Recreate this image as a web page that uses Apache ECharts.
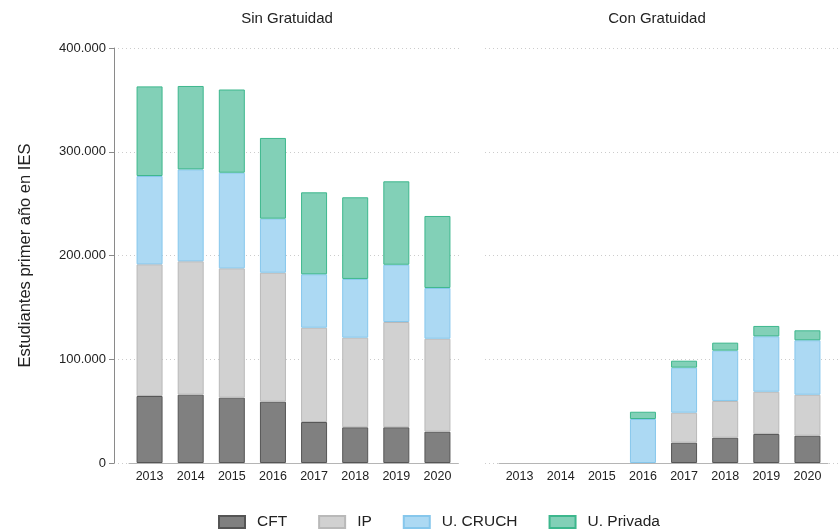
<!DOCTYPE html>
<html>
<head>
<meta charset="utf-8">
<script src="https://cdn.jsdelivr.net/npm/echarts@6/dist/echarts.min.js"></script>
<style>
  html, body { margin: 0; padding: 0; background: #fff; }
  #main { width: 839px; height: 531px; }
</style>
</head>
<body>
<div id="main"></div>
<script>
// años (eje x de ambos paneles)
var years = ['2013', '2014', '2015', '2016', '2017', '2018', '2019', '2020'];
var yTicks = [0, 100000, 200000, 300000, 400000];

// Sin Gratuidad
var sinCFT     = [64600, 65900, 63000, 59100, 39500, 34400, 34400, 30200];
var sinIP      = [126900, 128500, 124600, 124300, 90900, 86400, 101500, 89600];
var sinCRUCH   = [85100, 88600, 92200, 52100, 51500, 56600, 55200, 48900];
var sinPrivada = [86400, 80400, 80200, 77800, 79000, 78700, 80400, 69400];

// Con Gratuidad
var conCFT     = [0, 0, 0, 0, 19600, 24400, 28000, 26300];
var conIP      = [0, 0, 0, 0, 28900, 35400, 40700, 39500];
var conCRUCH   = [0, 0, 0, 42400, 43400, 48500, 53400, 52500];
var conPrivada = [0, 0, 0, 7000, 6700, 7700, 10000, 9600];

var names = ['CFT', 'IP', 'U. CRUCH', 'U. Privada'];
var fills = ['#808080', '#d1d1d1', '#acd9f3', '#82d0b7'];
var borders = ['#555555', '#b9b9b9', '#86c7ec', '#3db78d'];

var myChart = echarts.init(document.getElementById('main'));
var FONT = '"Liberation Sans", Arial, Helvetica, sans-serif';

function fmt(v) {   // 400000 -> 400.000
  return String(v).replace(/\B(?=(\d{3})+(?!\d))/g, '.');
}

function barSeries(name, idx, data, axisIdx, stack) {
  return {
    name: name,
    type: 'bar',
    stack: stack,
    xAxisIndex: axisIdx,
    yAxisIndex: axisIdx,
    barWidth: 26,
    // los ceros no se dibujan (solo queda la linea base)
    data: data.map(function (v) { return v === 0 ? '-' : v; }),
    itemStyle: { color: fills[idx], borderColor: borders[idx], borderWidth: 1 },
    emphasis: { disabled: true }
  };
}

var dotted = { show: true, lineStyle: { color: '#cccccc', type: [1, 3], width: 1 } };

var option = {
  backgroundColor: '#fff',
  animation: false,
  textStyle: { fontFamily: FONT },
  graphic: [
    { type: 'text', x: 287, y: 19, style: { text: 'Sin Gratuidad', font: '15px ' + FONT, fill: '#222', align: 'center', verticalAlign: 'middle' } },
    { type: 'text', x: 657, y: 19, style: { text: 'Con Gratuidad', font: '15px ' + FONT, fill: '#222', align: 'center', verticalAlign: 'middle' } }
  ],
  legend: {
    data: names,
    icon: 'rect',
    left: 213,
    top: 509,
    itemWidth: 26,
    itemHeight: 12,
    itemGap: 31,
    textStyle: { fontSize: 15.5, color: '#222', padding: [0, 0, 0, 7] }
  },
  grid: [
    { left: 114, top: 48, width: 346, bottom: 68 },   // fondo izquierdo
    { left: 129, top: 48, width: 329, bottom: 68 },   // barras sin gratuidad
    { left: 485, top: 48, width: 354, bottom: 68 },   // fondo derecho
    { left: 499, top: 48, width: 329, bottom: 68 }    // barras con gratuidad
  ],
  xAxis: [
    { gridIndex: 0, type: 'value', min: 0, max: 1, show: false },
    { gridIndex: 1, type: 'category', data: years,
      axisLine: { show: true, lineStyle: { color: '#b5b5b5' } }, axisTick: { show: false },
      axisLabel: { color: '#222', fontSize: 12.5, margin: 7 } },
    { gridIndex: 2, type: 'value', min: 0, max: 1, show: false },
    { gridIndex: 3, type: 'category', data: years,
      axisLine: { show: true, lineStyle: { color: '#b5b5b5' } }, axisTick: { show: false },
      axisLabel: { color: '#222', fontSize: 12.5, margin: 7 } }
  ],
  yAxis: [
    { gridIndex: 0, type: 'value', min: yTicks[0], max: yTicks[yTicks.length - 1], interval: 100000,
      name: 'Estudiantes primer año en IES', nameLocation: 'middle', nameGap: 80,
      nameTextStyle: { fontSize: 16.5, color: '#222' },
      axisLine: { show: true, lineStyle: { color: '#8a8a8a' } },
      axisTick: { show: true, length: 5, lineStyle: { color: '#8a8a8a' } },
      axisLabel: { color: '#222', fontSize: 13, margin: 8, formatter: fmt },
      splitLine: dotted },
    { gridIndex: 1, type: 'value', min: 0, max: 400000, interval: 100000, show: false },
    { gridIndex: 2, type: 'value', min: 0, max: 400000, interval: 100000,
      axisLine: { show: false }, axisTick: { show: false }, axisLabel: { show: false },
      splitLine: dotted },
    { gridIndex: 3, type: 'value', min: 0, max: 400000, interval: 100000, show: false }
  ],
  series: [
    barSeries(names[0], 0, sinCFT, 1, 'sin'),
    barSeries(names[1], 1, sinIP, 1, 'sin'),
    barSeries(names[2], 2, sinCRUCH, 1, 'sin'),
    barSeries(names[3], 3, sinPrivada, 1, 'sin'),
    barSeries(names[0], 0, conCFT, 3, 'con'),
    barSeries(names[1], 1, conIP, 3, 'con'),
    barSeries(names[2], 2, conCRUCH, 3, 'con'),
    barSeries(names[3], 3, conPrivada, 3, 'con')
  ]
};

myChart.setOption(option);
</script>
</body>
</html>
